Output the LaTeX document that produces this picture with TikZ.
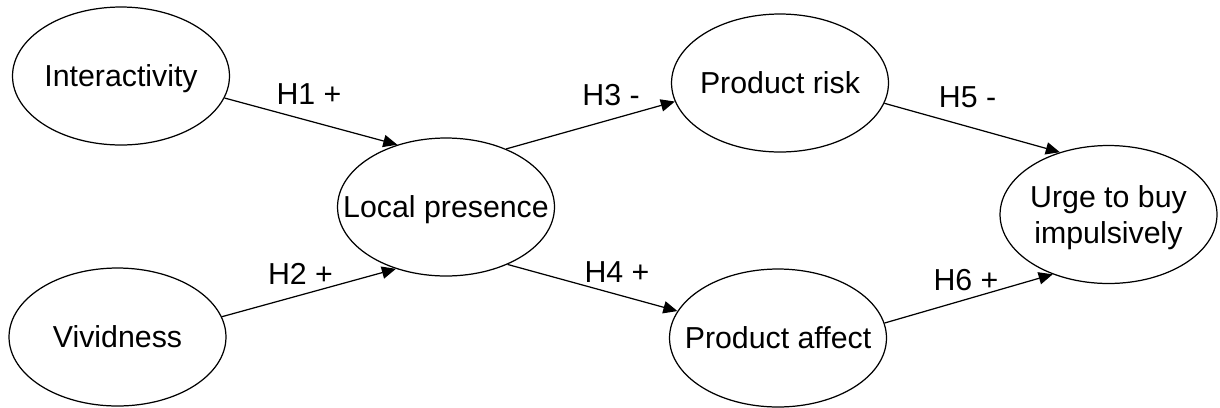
\documentclass[tikz,border=0pt]{standalone}
\usepackage{fontspec}
\setmainfont{Liberation Sans}
\usepackage{tikz}
\usetikzlibrary{shapes.geometric}
\usetikzlibrary{arrows.meta}

\begin{document}
\begin{tikzpicture}[x={(0.02cm,0)}, y={(0,-0.02cm)}, line width=0.7pt,
  font=\fontsize{17.25}{20}\selectfont,
  var/.style={ellipse, draw, minimum width=4.34cm, minimum height=2.76cm,
    inner xsep=-15pt, inner ysep=0pt, align=center, text depth=0pt},
  link/.style={-{Triangle[length=8pt, width=7pt]}}]

\useasboundingbox (0,0) rectangle (1220,407);

\node[var] (inter) at (121,76) {Interactivity};
\node[var] (vivid) at (117.5,337) {Vividness};
\node[var] (local) at (446,207) {Local presence};
\node[var] (risk) at (780,83) {Product risk};
\node[var] (affect) at (778,338) {Product affect};
\node[var] (urge) at (1108.5,214.5) {Urge to buy\\impulsively};

\draw[link] (inter.-12) -- (local.128);
\draw[link] (vivid.11) -- (local.231);
\draw[link] (local.44) -- (risk.190);
\draw[link] (local.-43) -- (affect.165);
\draw[link] (risk.-11.5) -- (urge.128);
\draw[link] (affect.8) -- (urge.227);

% hypothesis labels
\node (h1) at (309,94.5) {H1 +};
\node (h2) at (300.5,274) {H2 +};
\node (h3) at (611,95.5) {H3 -};
\node (h4) at (617,272) {H4 +};
\node (h5) at (967.5,97.5) {H5 -};
\node (h6) at (966,280) {H6 +};

\end{tikzpicture}
\end{document}
